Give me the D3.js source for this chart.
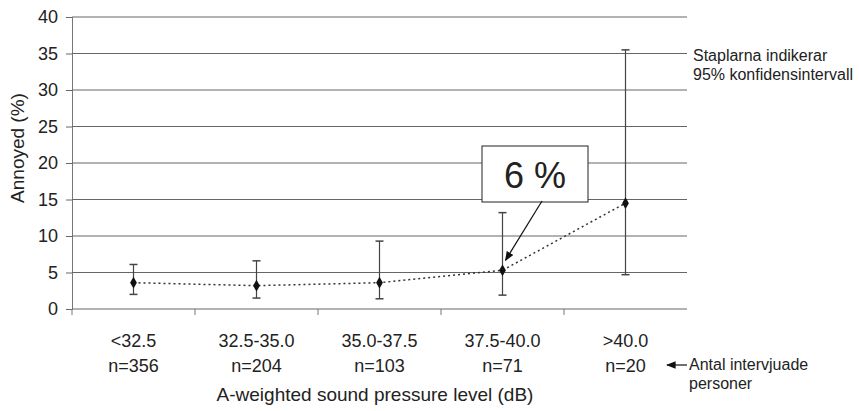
<!DOCTYPE html>
<html>
<head>
<meta charset="utf-8">
<script src="https://cdn.jsdelivr.net/npm/d3@7"></script>
<style>
  body { margin: 0; background: #fff; }
  text { font-family: Arial, "Liberation Sans", sans-serif; fill: #222; }
</style>
</head>
<body>
<div id="chart"></div>
<script>
// data
const categories = ['<32.5', '32.5-35.0', '35.0-37.5', '37.5-40.0', '>40.0']
const counts = ['n=356', 'n=204', 'n=103', 'n=71', 'n=20']
const annoyed = [3.6, 3.2, 3.6, 5.3, 14.5]
const ciLow = [2.0, 1.5, 1.4, 1.9, 4.7]
const ciHigh = [6.1, 6.6, 9.3, 13.2, 35.5]
const yTicks = [0, 5, 10, 15, 20, 25, 30, 35, 40]

const width = 859
const height = 411
const margin = { top: 17, right: 172, bottom: 102, left: 72 }

const svg = d3.select('#chart').append('svg')
  .attr('width', width)
  .attr('height', height)

const x = d3.scaleBand()
  .domain(categories)
  .range([margin.left, width - margin.right])

const y = d3.scaleLinear()
  .domain([0, 40])
  .range([height - margin.bottom, margin.top])

// grid lines + y labels
const yAxis = svg.append('g')
  .attr('transform', 'translate(' + margin.left + ',0)')
  .call(d3.axisLeft(y).tickValues(yTicks).tickSize(6).tickPadding(8))
yAxis.select('.domain').attr('stroke', '#777')
yAxis.selectAll('.tick line').attr('stroke', '#666')
yAxis.selectAll('.tick text').attr('font-size', 18).attr('fill', '#222')
  .style('font-family', 'Arial, "Liberation Sans", sans-serif')

svg.append('g').selectAll('line')
  .data(yTicks)
  .enter().append('line')
  .attr('x1', margin.left)
  .attr('x2', width - margin.right)
  .attr('y1', d => y(d))
  .attr('y2', d => y(d))
  .attr('stroke', '#666')
  .attr('stroke-width', 1)

// x ticks between categories
svg.append('g').selectAll('line')
  .data(categories)
  .enter().append('line')
  .attr('x1', d => x(d))
  .attr('x2', d => x(d))
  .attr('y1', y(0))
  .attr('y2', y(0) + 6)
  .attr('stroke', '#777')

// x labels
const cx = d => x(d) + x.bandwidth() / 2
svg.append('g').selectAll('text')
  .data(categories)
  .enter().append('text')
  .attr('x', d => cx(d))
  .attr('y', 347)
  .attr('text-anchor', 'middle')
  .attr('font-size', 18)
  .text(d => d)
svg.append('g').selectAll('text')
  .data(counts)
  .enter().append('text')
  .attr('x', (d, i) => cx(categories[i]))
  .attr('y', 372)
  .attr('text-anchor', 'middle')
  .attr('font-size', 18)
  .text(d => d)

// axis titles
svg.append('text')
  .attr('transform', 'translate(24,148) rotate(-90)')
  .attr('text-anchor', 'middle')
  .attr('font-size', 19)
  .text('Annoyed (%)')

svg.append('text')
  .attr('x', 375)
  .attr('y', 401)
  .attr('text-anchor', 'middle')
  .attr('font-size', 19)
  .text('A-weighted sound pressure level (dB)')

// error bars
const bars = svg.append('g')
categories.forEach(function (c, i) {
  bars.append('line')
    .attr('x1', cx(c)).attr('x2', cx(c))
    .attr('y1', y(ciLow[i])).attr('y2', y(ciHigh[i]))
    .attr('stroke', '#444').attr('stroke-width', 1.2)
  ;[ciLow[i], ciHigh[i]].forEach(function (v) {
    bars.append('line')
      .attr('x1', cx(c) - 4).attr('x2', cx(c) + 4)
      .attr('y1', y(v)).attr('y2', y(v))
      .attr('stroke', '#444').attr('stroke-width', 1.5)
  })
})

// dotted connecting line
const line = d3.line()
  .x((d, i) => cx(categories[i]))
  .y(d => y(d))
svg.append('path')
  .datum(annoyed)
  .attr('d', line)
  .attr('fill', 'none')
  .attr('stroke', '#333')
  .attr('stroke-width', 1.5)
  .attr('stroke-dasharray', '2,3')

// markers
svg.append('g').selectAll('path')
  .data(annoyed)
  .enter().append('path')
  .attr('transform', (d, i) => 'translate(' + cx(categories[i]) + ',' + y(d) + ')')
  .attr('d', d3.symbol().type(d3.symbolDiamond).size(40))
  .attr('fill', '#111')

// "6 %" callout
svg.append('rect')
  .attr('x', 482).attr('y', 146)
  .attr('width', 106).attr('height', 56)
  .attr('fill', '#fff').attr('stroke', '#222').attr('stroke-width', 1)
svg.append('text')
  .attr('x', 535).attr('y', 188)
  .attr('text-anchor', 'middle')
  .attr('font-size', 36)
  .attr('fill', '#111')
  .text('6 %')

svg.append('defs').append('marker')
  .attr('id', 'arrow')
  .attr('viewBox', '0 0 10 10')
  .attr('refX', 9).attr('refY', 5)
  .attr('markerWidth', 8).attr('markerHeight', 8)
  .attr('orient', 'auto')
  .append('path')
  .attr('d', 'M0,1 L10,5 L0,9 Z')
  .attr('fill', '#111')

svg.append('line')
  .attr('x1', 542).attr('y1', 201)
  .attr('x2', cx(categories[3]) + 3).attr('y2', y(annoyed[3]) - 10)
  .attr('stroke', '#111').attr('stroke-width', 1.2)
  .attr('marker-end', 'url(#arrow)')

// right notes
svg.append('text').attr('x', 693).attr('y', 61).attr('font-size', 16).text('Staplarna indikerar')
svg.append('text').attr('x', 693).attr('y', 80).attr('font-size', 16).text('95% konfidensintervall')

svg.append('line')
  .attr('x1', 687).attr('y1', 365)
  .attr('x2', 667).attr('y2', 365)
  .attr('stroke', '#111').attr('stroke-width', 1.2)
  .attr('marker-end', 'url(#arrow)')
svg.append('text').attr('x', 689).attr('y', 370).attr('font-size', 16).text('Antal intervjuade')
svg.append('text').attr('x', 689).attr('y', 389).attr('font-size', 16).text('personer')
</script>
</body>
</html>
